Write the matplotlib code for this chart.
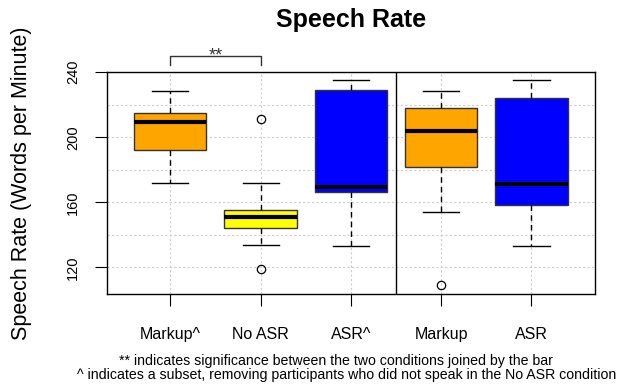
import matplotlib
matplotlib.use("Agg")
import matplotlib.pyplot as plt

plt.rcParams["font.family"] = ["Liberation Sans", "DejaVu Sans"]

# summary statistics per condition (words per minute)
labels = ["Markup^", "No ASR", "ASR^", "Markup", "ASR"]
whislo = [172.0, 134.0, 133.2, 154.2, 133.2]
q1 = [192.2, 144.4, 166.5, 182.0, 158.3]
med = [209.4, 151.2, 169.6, 203.9, 171.4]
q3 = [214.9, 155.1, 228.8, 218.2, 223.9]
whishi = [228.2, 172.0, 235.3, 228.2, 235.3]
fliers = [[], [211.0, 118.7], [], [109.0], []]
colors = ["#FFA500", "#FFFF00", "#0000FF", "#FFA500", "#0000FF"]

stats = []
for i in range(len(labels)):
    stats.append(dict(label=labels[i], whislo=whislo[i], q1=q1[i], med=med[i],
                      q3=q3[i], whishi=whishi[i], fliers=fliers[i]))

fig = plt.figure(figsize=(6.26, 3.87), dpi=100)
ax = fig.add_axes([0.171, 0.2395, 0.779, 0.5752])

pos = list(range(1, len(labels) + 1))

# dotted background grid
for p in pos:
    ax.axvline(p, color="#cccccc", linestyle=(0, (2, 2)), linewidth=0.8, zorder=0)
for yv in range(120, 241, 20):
    ax.axhline(yv, color="#cccccc", linestyle=(0, (2, 2)), linewidth=0.8, zorder=0)

bp = ax.bxp(stats, positions=pos, widths=0.8, patch_artist=True,
            capwidths=0.4, showfliers=True,
            boxprops=dict(edgecolor="#333333", linewidth=1.0),
            medianprops=dict(color="black", linewidth=3.0, solid_capstyle="butt"),
            whiskerprops=dict(color="black", linestyle=(0, (4, 3)), linewidth=1.0),
            capprops=dict(color="black", linewidth=1.0),
            flierprops=dict(marker="o", markerfacecolor="none",
                            markeredgecolor="black", markersize=6, markeredgewidth=0.9))
for patch, c in zip(bp["boxes"], colors):
    patch.set_facecolor(c)
    patch.set_zorder(2)

# separator between the subset and full conditions
ax.axvline(3.5, color="black", linewidth=1.0, zorder=3)

ax.set_xlim(0.3, 5.7)
ax.set_ylim(103.4, 240.3)

ax.set_yticks([120, 160, 200, 240])
ax.set_yticklabels(["120", "160", "200", "240"], rotation=90, va="center", fontsize=10.5)
ax.tick_params(axis="y", length=8.6, pad=11)
ax.set_xticks(pos)
ax.set_xticklabels(labels, fontsize=11.5)
ax.tick_params(axis="x", length=8.6, pad=15)
for s in ax.spines.values():
    s.set_linewidth(1.0)

fig.text(0.034, 0.527, "Speech Rate (Words per Minute)", rotation=90,
         ha="center", va="center", fontsize=15.5)
fig.text(0.561, 0.948, "Speech Rate", ha="center", va="center",
         fontsize=18, fontweight="bold")

# significance bracket between Markup^ and No ASR
ax.plot([1, 1, 2, 2], [244.7, 249.8, 249.8, 244.7], color="#333333",
        linewidth=1.0, clip_on=False)
ax.text(1.5, 247.5, "**", ha="center", va="baseline", fontsize=13, color="#333333")

fig.text(0.537, 0.068, "** indicates significance between the two conditions joined by the bar",
         ha="center", va="center", fontsize=10.2)
fig.text(0.554, 0.030, "^ indicates a subset, removing participants who did not speak in the No ASR condition",
         ha="center", va="center", fontsize=10.2)

fig.savefig("out.png", dpi=100)
